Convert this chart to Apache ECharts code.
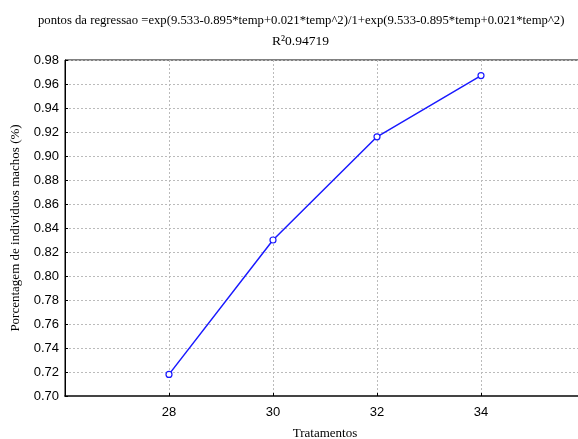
<!DOCTYPE html>
<html>
<head>
<meta charset="utf-8">
<script src="https://cdn.jsdelivr.net/npm/echarts@6/dist/echarts.min.js"></script>
<style>
  html, body { margin: 0; padding: 0; background: #fff; }
  #chart { width: 578px; height: 439px; }
</style>
</head>
<body>
<div id="chart"></div>
<script>
  // dados
  let tratamentos = [28, 30, 32, 34]
  let machos = [0.718, 0.830, 0.916, 0.967]
  let yTicks = [0.70, 0.72, 0.74, 0.76, 0.78, 0.80, 0.82, 0.84, 0.86, 0.88, 0.90, 0.92, 0.94, 0.96, 0.98]
  let xLabels = [28, 30, 32, 34]

  let myChart = echarts.init(document.getElementById('chart'))
  let serif = '"Liberation Serif", "Times New Roman", serif'
  let sans = '"Liberation Sans", Arial, sans-serif'

  let option = {
    animation: false,
    title: [{
      text: 'pontos da regressao =exp(9.533-0.895*temp+0.021*temp^2)/1+exp(9.533-0.895*temp+0.021*temp^2)',
      left: 33,
      top: 9,
      textStyle: { fontFamily: serif, fontSize: 12.7, fontWeight: 'normal', color: '#000' }
    }, {
      text: 'R²0.94719',
      left: 267,
      top: 29,
      textStyle: { fontFamily: serif, fontSize: 13.5, fontWeight: 'normal', color: '#000' }
    }],
    grid: {
      show: true,
      left: 65,
      right: -7,
      top: 60,
      bottom: 43,
      outerBoundsMode: 'none',
      containLabel: false,
      borderColor: '#000',
      borderWidth: 1
    },
    xAxis: {
      type: 'value',
      min: 26,
      max: 36,
      interval: 2,
      name: 'Tratamentos',
      nameLocation: 'middle',
      nameGap: 31,
      nameTextStyle: { fontFamily: serif, fontSize: 13, color: '#000' },
      axisLine: { show: true, lineStyle: { color: '#444', width: 2 } },
      axisTick: { show: true, inside: true, length: 3, lineStyle: { color: '#000' } },
      axisLabel: {
        fontFamily: sans,
        fontSize: 13,
        color: '#000',
        margin: 10,
        formatter: function (v) {
          return xLabels.indexOf(v) >= 0 ? String(v) : ''
        }
      },
      splitLine: { show: true, lineStyle: { color: '#bbb', type: [2, 2], width: 1 } }
    },
    yAxis: {
      type: 'value',
      min: yTicks[0],
      max: yTicks[yTicks.length - 1],
      interval: 0.02,
      name: 'Porcentagem de individuos machos (%)',
      nameLocation: 'middle',
      nameGap: 43,
      nameTextStyle: { fontFamily: serif, fontSize: 13, color: '#000' },
      axisLine: { show: true, lineStyle: { color: '#000', width: 1 } },
      axisTick: { show: true, inside: true, length: 3, lineStyle: { color: '#000' } },
      axisLabel: {
        fontFamily: sans,
        fontSize: 13,
        color: '#000',
        margin: 6,
        formatter: function (v) { return v.toFixed(2) }
      },
      splitLine: { show: true, lineStyle: { color: '#bbb', type: [2, 2], width: 1 } }
    },
    series: [{
      type: 'line',
      data: tratamentos.map(function (t, i) { return [t, machos[i]] }),
      symbol: 'circle',
      symbolSize: 6,
      lineStyle: { color: '#1a1aff', width: 1.5 },
      itemStyle: { color: '#fff', borderColor: '#1a1aff', borderWidth: 1.2 }
    }]
  }
  myChart.setOption(option)
</script>
</body>
</html>
